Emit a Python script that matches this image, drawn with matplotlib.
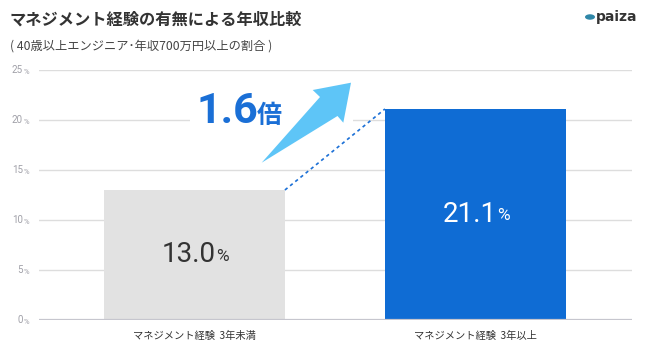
from matplotlib import pyplot as plt
from matplotlib.patches import Polygon, Rectangle, Circle
import numpy as np

plt.rcParams['font.family'] = ['Noto Sans CJK JP', 'DejaVu Sans']

# data
categories = ['マネジメント経験  3年未満', 'マネジメント経験  3年以上']
values = [13.0, 21.1]
value_labels = ['13.0', '21.1']
ratio_label = '1.6'
yticks = [0, 5, 10, 15, 20, 25]

title = 'マネジメント経験の有無による年収比較'
subtitle = '( 40歳以上エンジニア･年収700万円以上の割合 )'

bar_colors = ['#e2e2e2', '#0f6cd4']
label_colors = ['#333333', '#ffffff']
W, H = 650, 355

fig = plt.figure(figsize=(6.5, 3.55), dpi=100)
ax = fig.add_axes([39 / W, 35 / H, (632 - 39) / W, 250 / H])

x = np.arange(len(categories))
width = 0.644
ax.bar(x, values, width=width, color=bar_colors, zorder=3)
ax.set_xlim(-0.553, 1.557)
ax.set_ylim(0, 25)

# grid
for t in yticks[1:]:
    ax.axhline(t, color='#dddddd', lw=1, zorder=1)
ax.axhline(0, color='#c6c6ce', lw=1.6, zorder=4)
for s in ax.spines.values():
    s.set_visible(False)

ax.set_yticks([])
ax.set_xticks(x)
ax.set_xticklabels(categories, fontsize=7.4, color='#333333')
ax.tick_params(axis='x', length=0, pad=8)

# y tick labels with small %
for t in yticks:
    tx = ax.text(-0.027, t, str(t), transform=ax.get_yaxis_transform(),
                 ha='right', va='center', fontsize=7, color='#a0a0a8',
                 family=['Roboto', 'DejaVu Sans'])
    ax.annotate('%', xy=(1, 0), xycoords=tx, xytext=(0.5, 0.3),
                textcoords='offset points', ha='left', va='bottom',
                fontsize=5.5, color='#a0a0a8', family=['Roboto', 'DejaVu Sans'])

# value labels
for i, v in enumerate(values):
    tx = ax.text(x[i] - 0.021, v / 2, value_labels[i], ha='center',
                 va='center', fontsize=20, color=label_colors[i], zorder=5,
                 family=['Roboto', 'DejaVu Sans'])
    ax.annotate('%', xy=(1, 0), xycoords=tx, xytext=(0.3, 3.5),
                textcoords='offset points', ha='left', va='bottom',
                fontsize=12.5, color=label_colors[i], zorder=5,
                family=['Roboto', 'DejaVu Sans'])

# dotted connector between bar tops
ax.plot([x[0] + width / 2, x[1] - width / 2], [values[0], values[1]],
        color='#1a6fd6', lw=1.2, dashes=(2, 2), zorder=4)

# white area behind the ratio + arrow (hides gridline only)
ax.add_patch(Rectangle((190 / W, 1 - 160 / H), 163 / W, 80 / H,
                       transform=fig.transFigure, facecolor='white',
                       edgecolor='none', zorder=2))

# arrow
pts = [(261.7, 162.7), (320, 97), (312.7, 90), (351, 82.7),
       (343.3, 122.7), (337.5, 116)]
ax.add_patch(Polygon([(px / W, 1 - py / H) for px, py in pts], closed=True,
                     transform=fig.transFigure, facecolor='#5ec5f7',
                     edgecolor='none', zorder=3, clip_on=False))

# ratio text
fig.text(196 / W, 1 - 123 / H, ratio_label, ha='left', va='baseline',
         fontsize=31, fontweight='bold', color='#1a6fd6', zorder=5,
         family=['Roboto', 'DejaVu Sans'])
fig.text(257 / W, 1 - 123 / H, '倍', ha='left', va='baseline',
         fontsize=18, fontweight='bold', color='#1a6fd6', zorder=5)

# titles
fig.text(10 / W, 1 - 20 / H, title, ha='left', va='center', fontsize=11.7,
         fontweight='bold', color='#333333')
fig.text(10 / W, 1 - 46 / H, subtitle, ha='left', va='center', fontsize=8.8,
         color='#444444')

# logo
fig.patches.append(Circle((590 / W, 1 - 17 / H), 5 / W, transform=fig.transFigure,
                          facecolor='#2f87a8', edgecolor='none'))
fig.text(596 / W, 1 - 17 / H, 'paiza', ha='left', va='center', fontsize=10,
         fontweight='bold', color='#333333', family=['DejaVu Sans'])

fig.savefig('out.png', dpi=100)
